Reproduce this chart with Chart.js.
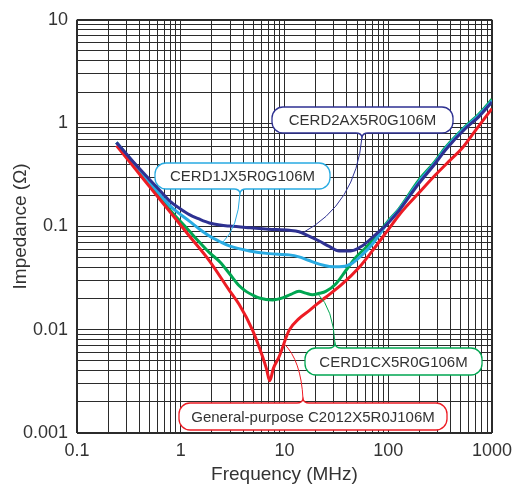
<!DOCTYPE html>
<html>
<head>
<meta charset="utf-8">
<title>Impedance vs frequency</title>
<script src="https://cdn.jsdelivr.net/npm/chart.js@4.4.1/dist/chart.umd.min.js"></script>
<style>
  html, body { margin: 0; padding: 0; background: #fff; }
</style>
</head>
<body>
<canvas id="impedanceChart" width="519" height="487"></canvas>
<script>
// Decade ticks on both axes
const freqTicks = [0.1, 1, 10, 100, 1000];
const freqTickLabels = ['0.1', '1', '10', '100', '1000'];
const impTicks = [0.001, 0.01, 0.1, 1, 10];
const impTickLabels = ['0.001', '0.01', '0.1', '1', '10'];

const partNames = ['CERD2AX5R0G106M', 'CERD1JX5R0G106M', 'CERD1CX5R0G106M', 'General-purpose C2012X5R0J106M'];

// Frequency (MHz) and |Z| (ohm) for each part
const cerd2aFreq = [0.24, 0.35, 0.5, 0.65, 0.78, 0.97, 1.21, 1.5, 1.89, 2.4, 2.94, 4.6, 7, 11.1, 13.8, 17, 21.6, 27, 33.6, 43.5, 56, 76, 100, 127, 197, 280, 356, 555, 745, 1000];
const cerd2aZ = [0.65, 0.42, 0.285, 0.215, 0.177, 0.150, 0.130, 0.118, 0.108, 0.103, 0.1007, 0.097, 0.094, 0.0916, 0.0887, 0.081, 0.0722, 0.064, 0.0579, 0.0579, 0.0647, 0.0838, 0.108, 0.142, 0.26, 0.40, 0.55, 0.887, 1.15, 1.60];

const cerd1jFreq = [0.24, 0.35, 0.5, 0.78, 0.97, 1.21, 1.5, 1.89, 2.4, 2.94, 4.6, 7.1, 11.1, 13.8, 17, 21.6, 27, 33.6, 43.5, 56, 70, 100, 127, 197, 280, 356, 555, 745, 1000];
const cerd1jZ = [0.65, 0.413, 0.268, 0.16, 0.133, 0.1125, 0.095, 0.0807, 0.071, 0.0647, 0.0579, 0.0545, 0.053, 0.0507, 0.047, 0.0431, 0.041, 0.0406, 0.0431, 0.053, 0.0671, 0.11, 0.145, 0.27, 0.41, 0.565, 0.91, 1.19, 1.65];

const cerd1cFreq = [0.24, 0.35, 0.5, 0.78, 1.21, 1.5, 1.89, 2.4, 2.94, 3.66, 4.26, 5.0, 5.71, 7.67, 9.57, 11.5, 13.8, 16, 18.6, 21.6, 25, 31.2, 38.9, 48.6, 60.6, 70.2, 100, 127, 197, 280, 356, 555, 745, 1000];
const cerd1cZ = [0.65, 0.41, 0.258, 0.146, 0.0901, 0.071, 0.0557, 0.045, 0.035, 0.0266, 0.0235, 0.0215, 0.0203, 0.0194, 0.0203, 0.022, 0.0235, 0.0226, 0.0218, 0.0225, 0.0235, 0.0277, 0.0372, 0.0499, 0.0622, 0.0722, 0.113, 0.148, 0.28, 0.42, 0.58, 0.93, 1.22, 1.70];

const c2012Freq = [0.24, 0.35, 0.5, 0.78, 1.21, 1.89, 2.94, 3.66, 4.92, 6.14, 6.7, 7.21, 7.8, 8.89, 11.1, 13.8, 17.3, 21, 25, 36.1, 52.3, 70.2, 100, 136, 200, 286, 400, 515, 700, 1000];
const c2012Z = [0.605, 0.379, 0.243, 0.140, 0.0807, 0.0464, 0.024, 0.0175, 0.0099, 0.0055, 0.0042, 0.0032, 0.0042, 0.0055, 0.0099, 0.0128, 0.0153, 0.018, 0.0206, 0.0277, 0.040, 0.0579, 0.093, 0.140, 0.214, 0.316, 0.443, 0.57, 0.86, 1.38];

const seriesFreq = [cerd2aFreq, cerd1jFreq, cerd1cFreq, c2012Freq];
const seriesZ = [cerd2aZ, cerd1jZ, cerd1cZ, c2012Z];
const seriesColors = ['#2e3192', '#29abe2', '#00a651', '#ed1c24'];
const drawOrder = [0, 2, 3, 1];

const textColor = '#333';
const gridColor = '#2b2b2b';

// 1..9 per decade, used for the grid
function decadeGrid(min, max) {
    const vals = [];
    for (let e = Math.round(Math.log10(min)); e < Math.round(Math.log10(max)); e++) {
        for (let m = 1; m <= 9; m++) {
            vals.push(Number((m * Math.pow(10, e)).toPrecision(6)));
        }
    }
    vals.push(max);
    return vals.map(v => ({ value: v }));
}

function decadeLabel(values, labels, value) {
    const i = values.findIndex(v => Math.abs(v - value) < v * 1e-6);
    return i >= 0 ? labels[i] : '';
}

// interpolate |Z| on a series in log-log space
function zAt(freqs, zs, f) {
    for (let i = 1; i < freqs.length; i++) {
        if (f <= freqs[i]) {
            const t = (Math.log10(f) - Math.log10(freqs[i - 1])) / (Math.log10(freqs[i]) - Math.log10(freqs[i - 1]));
            return Math.pow(10, Math.log10(zs[i - 1]) + t * (Math.log10(zs[i]) - Math.log10(zs[i - 1])));
        }
    }
    return zs[zs.length - 1];
}

// Part-number callouts with leader lines to their curves
const callouts = [
    { series: 0, at: 14.8, box: { x: 272, y: 107, w: 181, h: 26 }, notchX: 362, edge: 'bottom' },
    { series: 1, at: 2.52, box: { x: 155, y: 163, w: 175, h: 26 }, notchX: 240, edge: 'bottom' },
    { series: 2, at: 20.9, box: { x: 305, y: 348, w: 177, h: 27 }, notchX: 335, edge: 'top' },
    { series: 3, at: 9.9, box: { x: 179, y: 403, w: 268, h: 27 }, notchX: 303, edge: 'top' }
];

const calloutPlugin = {
    id: 'callouts',
    afterDatasetsDraw(chart) {
        const ctx = chart.ctx;
        const xs = chart.scales.x;
        const ys = chart.scales.y;
        ctx.save();
        callouts.forEach(c => {
            const color = seriesColors[c.series];
            const b = c.box;
            const r = 11;
            const nx = c.notchX;
            const d = 4;

            ctx.beginPath();
            ctx.moveTo(b.x + r, b.y);
            if (c.edge === 'top') {
                ctx.lineTo(nx - 6, b.y);
                ctx.quadraticCurveTo(nx - 1, b.y, nx, b.y - d);
                ctx.quadraticCurveTo(nx + 1, b.y, nx + 6, b.y);
            }
            ctx.lineTo(b.x + b.w - r, b.y);
            ctx.arcTo(b.x + b.w, b.y, b.x + b.w, b.y + r, r);
            ctx.lineTo(b.x + b.w, b.y + b.h - r);
            ctx.arcTo(b.x + b.w, b.y + b.h, b.x + b.w - r, b.y + b.h, r);
            if (c.edge === 'bottom') {
                ctx.lineTo(nx + 6, b.y + b.h);
                ctx.quadraticCurveTo(nx + 1, b.y + b.h, nx, b.y + b.h + d);
                ctx.quadraticCurveTo(nx - 1, b.y + b.h, nx - 6, b.y + b.h);
            }
            ctx.lineTo(b.x + r, b.y + b.h);
            ctx.arcTo(b.x, b.y + b.h, b.x, b.y + b.h - r, r);
            ctx.lineTo(b.x, b.y + r);
            ctx.arcTo(b.x, b.y, b.x + r, b.y, r);
            ctx.closePath();
            ctx.fillStyle = '#fff';
            ctx.fill();
            ctx.strokeStyle = color;
            ctx.lineWidth = 1.3;
            ctx.stroke();

            ctx.fillStyle = textColor;
            ctx.font = '15px "Liberation Sans", Arial, sans-serif';
            ctx.textAlign = 'center';
            ctx.textBaseline = 'middle';
            ctx.fillText(partNames[c.series], b.x + b.w / 2, b.y + b.h / 2 + 1);

            // leader from notch tip to the curve
            const sy = c.edge === 'bottom' ? b.y + b.h + d : b.y - d;
            const tx = xs.getPixelForValue(c.at);
            const ty = ys.getPixelForValue(zAt(seriesFreq[c.series], seriesZ[c.series], c.at));
            const cx = nx + 0.1 * (tx - nx);
            const cy = sy + 0.7 * (ty - sy);
            ctx.beginPath();
            ctx.moveTo(nx, sy);
            ctx.quadraticCurveTo(cx, cy, tx, ty);
            ctx.lineWidth = 1;
            ctx.stroke();
        });
        ctx.restore();
    }
};

const datasets = seriesFreq.map((freqs, i) => ({
    label: partNames[i],
    data: freqs.map((f, k) => ({ x: f, y: seriesZ[i][k] })),
    borderColor: seriesColors[i],
    borderWidth: 3,
    pointRadius: 0,
    cubicInterpolationMode: 'monotone',
    order: drawOrder[i],
    fill: false
}));

const edgeWidth = (ctx) => (ctx.index === 0 || ctx.index === ctx.scale.ticks.length - 1) ? 2 : 1;

new Chart(document.getElementById('impedanceChart').getContext('2d'), {
    type: 'line',
    data: { datasets: datasets },
    options: {
        responsive: false,
        animation: false,
        layout: { padding: { top: 17, right: 26, bottom: 0, left: 0 } },
        plugins: {
            legend: { display: false },
            tooltip: { enabled: false }
        },
        scales: {
            x: {
                type: 'logarithmic',
                min: 0.1,
                max: 1000,
                afterBuildTicks: (scale) => { scale.ticks = decadeGrid(0.1, 1000); },
                afterFit: (scale) => { scale.height = 54; },
                grid: { color: gridColor, lineWidth: edgeWidth, drawTicks: false },
                border: { display: false },
                ticks: {
                    autoSkip: false,
                    maxRotation: 0,
                    padding: 7,
                    color: textColor,
                    font: { family: '"Liberation Sans", Arial, sans-serif', size: 18 },
                    callback: (value) => decadeLabel(freqTicks, freqTickLabels, value)
                },
                title: {
                    display: true,
                    text: 'Frequency (MHz)',
                    color: textColor,
                    font: { family: '"Liberation Sans", Arial, sans-serif', size: 19 },
                    padding: { top: 0, bottom: 1 }
                }
            },
            y: {
                type: 'logarithmic',
                min: 0.001,
                max: 10,
                afterBuildTicks: (scale) => { scale.ticks = decadeGrid(0.001, 10); },
                afterFit: (scale) => { scale.width = 77; },
                grid: { color: gridColor, lineWidth: edgeWidth, drawTicks: false },
                border: { display: false },
                ticks: {
                    autoSkip: false,
                    padding: 9,
                    color: textColor,
                    font: { family: '"Liberation Sans", Arial, sans-serif', size: 18 },
                    callback: (value) => decadeLabel(impTicks, impTickLabels, value)
                },
                title: {
                    display: true,
                    text: 'Impedance (Ω)',
                    color: textColor,
                    font: { family: '"Liberation Sans", Arial, sans-serif', size: 19 },
                    padding: { top: 9, bottom: 0 }
                }
            }
        }
    },
    plugins: [calloutPlugin]
});
</script>
</body>
</html>
